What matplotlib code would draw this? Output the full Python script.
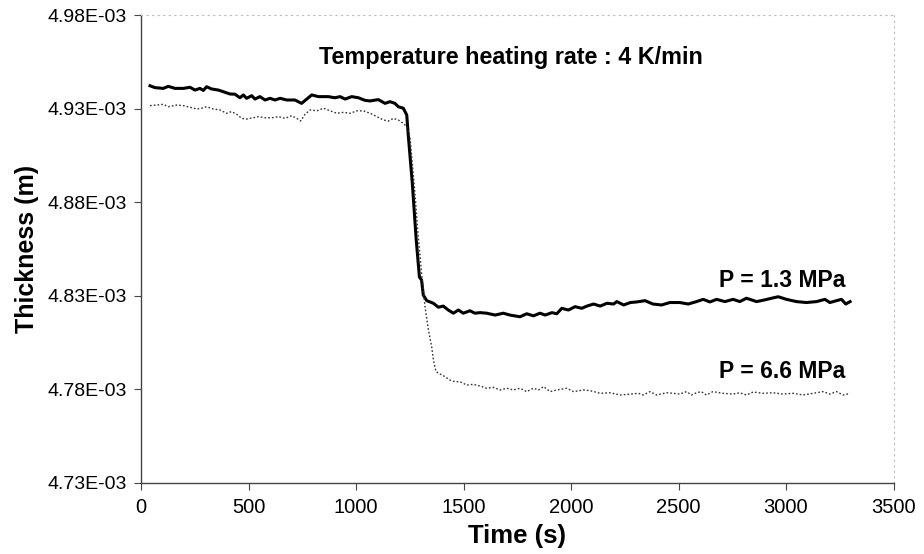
import matplotlib
matplotlib.use("Agg")
import matplotlib.pyplot as plt

plt.rcParams['font.family'] = ['Liberation Sans', 'DejaVu Sans']

# P = 1.3 MPa (solid)
t_13 = [42, 65, 104, 127, 158, 197, 228, 251, 274, 290, 305, 328, 360, 391, 414, 437,
        460, 476, 491, 515, 530, 553, 577, 600, 623, 647, 678, 716, 747, 771, 794, 825,
        871, 902, 926, 949, 980, 1011, 1042, 1065, 1104, 1135, 1158, 1181, 1197, 1220,
        1236, 1243, 1262, 1280, 1295, 1305, 1313, 1329, 1360, 1383, 1406, 1429, 1453,
        1476, 1499, 1530, 1553, 1577, 1608, 1647, 1685, 1716, 1763, 1794, 1825, 1856,
        1880, 1911, 1934, 1957, 1988, 2019, 2050, 2074, 2105, 2136, 2167, 2198, 2213,
        2245, 2276, 2305, 2344, 2381, 2421, 2460, 2506, 2545, 2584, 2615, 2646, 2677,
        2716, 2754, 2785, 2816, 2863, 2901, 2933, 2964, 3002, 3049, 3095, 3142, 3181,
        3204, 3235, 3258, 3278, 3298]
h_13 = [4.9422, 4.9412, 4.9408, 4.9419, 4.9408, 4.9408, 4.9414, 4.9399, 4.9408, 4.9397,
        4.9417, 4.9405, 4.9399, 4.9387, 4.9378, 4.9377, 4.9358, 4.9373, 4.9355, 4.9369,
        4.9351, 4.9364, 4.9346, 4.9355, 4.9346, 4.9355, 4.9346, 4.9346, 4.9328, 4.9351,
        4.9373, 4.9364, 4.9364, 4.9358, 4.9364, 4.9351, 4.9364, 4.9358, 4.9344, 4.9341,
        4.9348, 4.9328, 4.9337, 4.9328, 4.9310, 4.9302, 4.9266, 4.9159, 4.8900, 4.8600,
        4.8400, 4.8384, 4.8304, 4.8274, 4.8260, 4.8239, 4.8245, 4.8224, 4.8207, 4.8224,
        4.8207, 4.8220, 4.8207, 4.8210, 4.8207, 4.8197, 4.8207, 4.8197, 4.8188, 4.8204,
        4.8193, 4.8207, 4.8197, 4.8210, 4.8204, 4.8233, 4.8224, 4.8242, 4.8233, 4.8245,
        4.8256, 4.8245, 4.8260, 4.8256, 4.8269, 4.8251, 4.8264, 4.8267, 4.8274, 4.8256,
        4.8251, 4.8264, 4.8264, 4.8256, 4.8269, 4.8281, 4.8267, 4.8281, 4.8269, 4.8281,
        4.8269, 4.8287, 4.8269, 4.8278, 4.8287, 4.8295, 4.8281, 4.8269, 4.8264, 4.8269,
        4.8281, 4.8264, 4.8274, 4.8281, 4.8256, 4.8269]

# P = 6.6 MPa (dotted)
t_66 = [42, 74, 104, 127, 166, 197, 228, 259, 282, 305, 336, 367, 398, 421, 445, 468,
        491, 522, 546, 577, 608, 639, 670, 701, 724, 743, 763, 787, 818, 849, 880, 911,
        942, 973, 1004, 1035, 1066, 1097, 1128, 1151, 1174, 1197, 1220, 1236, 1251,
        1274, 1288, 1305, 1321, 1337, 1352, 1360, 1372, 1391, 1414, 1437, 1460, 1484,
        1515, 1546, 1577, 1608, 1639, 1670, 1701, 1732, 1763, 1794, 1825, 1849, 1872,
        1903, 1934, 1980, 2012, 2058, 2089, 2136, 2182, 2229, 2276, 2314, 2336, 2367,
        2398, 2444, 2475, 2506, 2537, 2560, 2584, 2606, 2630, 2660, 2707, 2754, 2785,
        2816, 2847, 2894, 2940, 2987, 3033, 3080, 3126, 3173, 3204, 3235, 3266, 3298]
h_66 = [4.9316, 4.9319, 4.9323, 4.9310, 4.9319, 4.9316, 4.9307, 4.9298, 4.9302, 4.9310,
        4.9298, 4.9293, 4.9275, 4.9284, 4.9270, 4.9248, 4.9244, 4.9251, 4.9257, 4.9251,
        4.9251, 4.9257, 4.9248, 4.9262, 4.9248, 4.9234, 4.9270, 4.9293, 4.9288, 4.9302,
        4.9288, 4.9275, 4.9280, 4.9275, 4.9288, 4.9288, 4.9275, 4.9257, 4.9239, 4.9234,
        4.9248, 4.9239, 4.9221, 4.9203, 4.9148, 4.8850, 4.8636, 4.8420, 4.8242, 4.8117,
        4.8028, 4.7957, 4.7895, 4.7882, 4.7868, 4.7850, 4.7841, 4.7841, 4.7823, 4.7827,
        4.7818, 4.7806, 4.7811, 4.7797, 4.7806, 4.7797, 4.7806, 4.7788, 4.7806, 4.7797,
        4.7815, 4.7788, 4.7797, 4.7806, 4.7788, 4.7797, 4.7793, 4.7779, 4.7782, 4.7770,
        4.7775, 4.7779, 4.7770, 4.7788, 4.7770, 4.7782, 4.7779, 4.7775, 4.7788, 4.7770,
        4.7782, 4.7788, 4.7770, 4.7788, 4.7779, 4.7775, 4.7782, 4.7770, 4.7786, 4.7779,
        4.7782, 4.7775, 4.7779, 4.7770, 4.7779, 4.7788, 4.7775, 4.7788, 4.7770, 4.7779]

y_ticks = [4.73e-3, 4.78e-3, 4.83e-3, 4.88e-3, 4.93e-3, 4.98e-3]
y_ticklabels = ["4.73E-03", "4.78E-03", "4.83E-03", "4.88E-03", "4.93E-03", "4.98E-03"]
x_ticks = [0, 500, 1000, 1500, 2000, 2500, 3000, 3500]

fig = plt.figure(figsize=(9.24, 5.54), dpi=100)
ax = fig.add_axes([0.1526, 0.1282, 0.8144, 0.8447])

ax.plot(t_13, [v * 1e-3 for v in h_13], color='black', lw=2.2, solid_joinstyle='round')
ax.plot(t_66, [v * 1e-3 for v in h_66], color='#333333', lw=1.0, ls=(0, (1.2, 1.5)))

ax.set_xlim(0, 3500)
ax.set_ylim(4.73e-3, 4.98e-3)
ax.set_xticks(x_ticks)
ax.set_xticklabels([str(v) for v in x_ticks], fontsize=14.5)
ax.set_yticks(y_ticks)
ax.set_yticklabels(y_ticklabels, fontsize=14)
ax.tick_params(axis='y', direction='out', length=5, width=0.8, color='#444444', pad=5)
ax.tick_params(axis='x', direction='out', length=5, width=0.8, color='#444444', pad=6)

for s in ['left', 'bottom']:
    ax.spines[s].set_color('#444444')
    ax.spines[s].set_linewidth(1.0)
for s in ['top', 'right']:
    ax.spines[s].set_color('#bbbbbb')
    ax.spines[s].set_linewidth(0.8)
    ax.spines[s].set_linestyle((0, (1, 4)))

ax.set_xlabel("Time (s)", fontsize=18.5, fontweight='bold', labelpad=5)
ax.set_ylabel("Thickness (m)", fontsize=18, fontweight='bold', labelpad=6)

ax.text(1719, 4.9573e-3, "Temperature heating rate : 4 K/min", fontsize=16.8,
        fontweight='bold', ha='center', va='center')
ax.text(3274, 4.8381e-3, "P = 1.3 MPa", fontsize=16.5, fontweight='bold', ha='right', va='center')
ax.text(3274, 4.7895e-3, "P = 6.6 MPa", fontsize=16.5, fontweight='bold', ha='right', va='center')

fig.savefig("out.png", dpi=100)
